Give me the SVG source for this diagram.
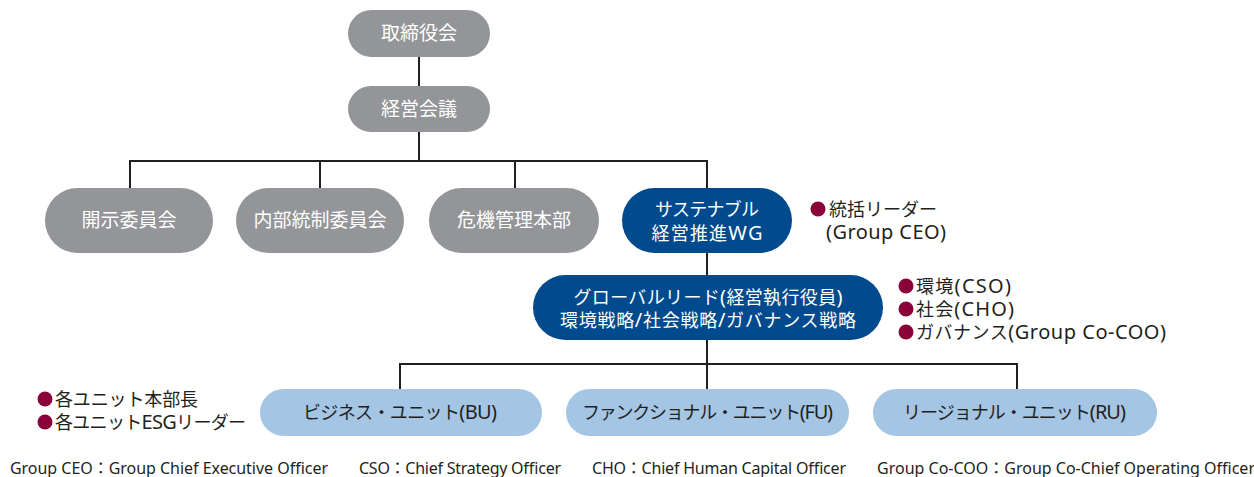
<svg xmlns="http://www.w3.org/2000/svg" width="1254" height="477" viewBox="0 0 1254 477">
<style>
text{font-family:"Noto Sans","Noto Sans CJK JP",sans-serif}
.gray{fill:#939598}
.navy{fill:#004a8d}
.light{fill:#a4c5e4}
.wt{fill:#ffffff;font-size:18px;text-anchor:middle}
.g{font-size:19px}
.dt{fill:#231f20;font-size:18px;text-anchor:middle}
.lab{fill:#231f20;font-size:18px}
.l{font-size:20px}
.bul{fill:#8b0038}
.note{fill:#231f20;font-size:16px}
.line{stroke:#231f20;stroke-width:2;fill:none}
</style>
<rect width="1254" height="477" fill="#ffffff"/>
<g id="connectors">
<path class="line" d="M419 57V86M419 132V161M130 188V161H707V188M320 161V188M515 161V188M707 253V275M707 340V364M400 389V364H1017V389M707 364V389"/>
</g>
<g id="n-board"><rect class="gray" x="348" y="10" width="142" height="47" rx="23.5"/><text class="wt g" x="419" y="40">取締役会</text></g>
<g id="n-mgmt"><rect class="gray" x="348" y="86" width="142" height="46" rx="23"/><text class="wt g" x="419" y="115.5">経営会議</text></g>
<g id="n-disclosure"><rect class="gray" x="45" y="188" width="168" height="65" rx="32.5"/><text class="wt g" x="129" y="227">開示委員会</text></g>
<g id="n-internal"><rect class="gray" x="236" y="188" width="168" height="65" rx="32.5"/><text class="wt g" x="320" y="227">内部統制委員会</text></g>
<g id="n-crisis"><rect class="gray" x="429" y="188" width="170" height="65" rx="32.5"/><text class="wt g" x="514" y="227">危機管理本部</text></g>
<g id="n-wg"><rect class="navy" x="622" y="188" width="170" height="65" rx="32.5"/><text class="wt" x="707" y="215.5" textLength="104" lengthAdjust="spacing">サステナブル</text><text class="wt" x="707" y="239.5" textLength="111" lengthAdjust="spacing">経営推進<tspan class="l">WG</tspan></text></g>
<g id="l-wg"><circle class="bul" cx="818" cy="209" r="7.5"/><text class="lab" x="829" y="215.5" textLength="108" lengthAdjust="spacing">統括リーダー</text><text class="lab" x="826" y="238.5" textLength="120" lengthAdjust="spacing"><tspan class="l">(Group CEO)</tspan></text></g>
<g id="n-global"><rect class="navy" x="533" y="275" width="350" height="65" rx="32.5"/><text class="wt" x="708" y="303.5" textLength="269" lengthAdjust="spacing">グローバルリード<tspan class="l">(</tspan>経営執行役員<tspan class="l">)</tspan></text><text class="wt" x="708" y="326.5" textLength="296" lengthAdjust="spacing">環境戦略<tspan class="l">/</tspan>社会戦略<tspan class="l">/</tspan>ガバナンス戦略</text></g>
<g id="l-global"><circle class="bul" cx="906" cy="286" r="7.5"/><text class="lab" x="916" y="292.5" textLength="95" lengthAdjust="spacing">環境<tspan class="l">(CSO)</tspan></text><circle class="bul" cx="906" cy="309" r="7.5"/><text class="lab" x="916" y="315.5" textLength="98" lengthAdjust="spacing">社会<tspan class="l">(CHO)</tspan></text><circle class="bul" cx="906" cy="332" r="7.5"/><text class="lab" x="916" y="338.5" textLength="250" lengthAdjust="spacing">ガバナンス<tspan class="l">(Group Co-COO)</tspan></text></g>
<g id="l-units"><circle class="bul" cx="45" cy="399" r="7.5"/><text class="lab" x="55" y="405.5" textLength="143" lengthAdjust="spacing">各ユニット本部長</text><circle class="bul" cx="45" cy="422" r="7.5"/><text class="lab" x="55" y="428.5" textLength="191" lengthAdjust="spacing">各ユニット<tspan class="l">ESG</tspan>リーダー</text></g>
<g id="n-bu"><rect class="light" x="260" y="389" width="282" height="47" rx="23.5"/><text class="dt" x="400" y="419" textLength="194" lengthAdjust="spacing">ビジネス・ユニット<tspan class="l">(BU)</tspan></text></g>
<g id="n-fu"><rect class="light" x="566" y="389" width="283" height="47" rx="23.5"/><text class="dt" x="707.5" y="419" textLength="251" lengthAdjust="spacing">ファンクショナル・ユニット<tspan class="l">(FU)</tspan></text></g>
<g id="n-ru"><rect class="light" x="873" y="389" width="284" height="47" rx="23.5"/><text class="dt" x="1014.5" y="419" textLength="223" lengthAdjust="spacing">リージョナル・ユニット<tspan class="l">(RU)</tspan></text></g>
<g id="notes">
<text class="note" x="10" y="474" textLength="318" lengthAdjust="spacing">Group CEO：Group Chief Executive Officer</text>
<text class="note" x="359" y="474" textLength="202" lengthAdjust="spacing">CSO：Chief Strategy Officer</text>
<text class="note" x="592" y="474" textLength="254" lengthAdjust="spacing">CHO：Chief Human Capital Officer</text>
<text class="note" x="877" y="474" textLength="378" lengthAdjust="spacing">Group Co-COO：Group Co-Chief Operating Officer</text>
</g>
</svg>
